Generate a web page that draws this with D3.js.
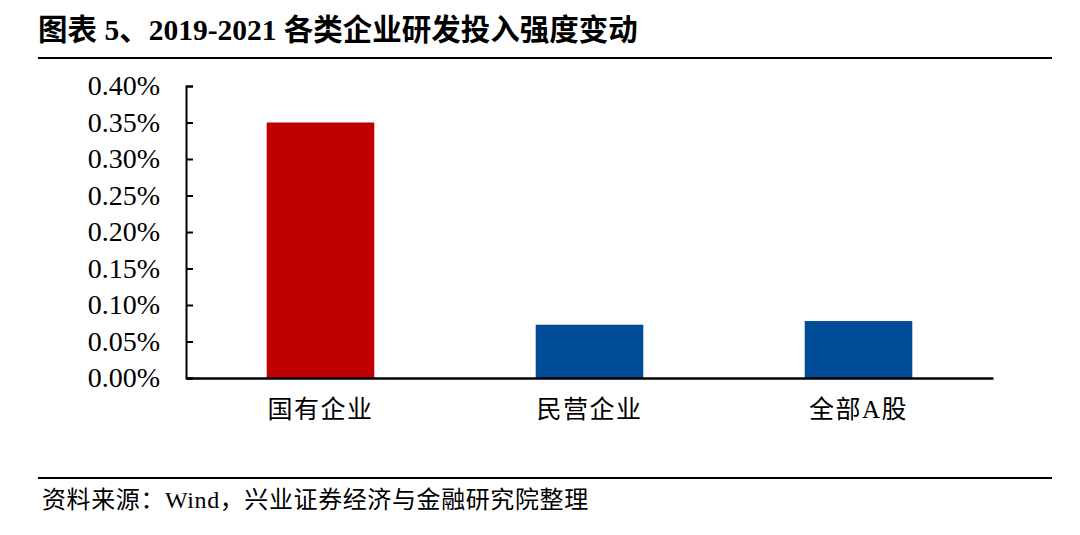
<!DOCTYPE html>
<html>
<head>
<meta charset="utf-8">
<script src="https://cdn.jsdelivr.net/npm/d3@7"></script>
<style>
  html, body { margin: 0; padding: 0; background: #fff; }
  svg { display: block; }
</style>
</head>
<body>
<svg id="chart" width="1080" height="535"></svg>
<script>
// Data: R&D intensity change 2019-2021 by enterprise type (percent)
const categories = ["国有企业", "民营企业", "全部A股"];
const values = [0.35, 0.073, 0.078];
const barColors = ["#C00000", "#004C97", "#004C97"];
const yTicks = [0, 0.05, 0.10, 0.15, 0.20, 0.25, 0.30, 0.35, 0.40];

const titleText = "图表 5、2019-2021 各类企业研发投入强度变动";
const sourceText = "资料来源：Wind，兴业证券经济与金融研究院整理";

const svg = d3.select("#chart");
const fontStack = '"Liberation Serif", "Noto Sans CJK SC", serif';

// Title and rules
svg.append("text")
  .attr("x", 38).attr("y", 40)
  .attr("font-family", fontStack)
  .attr("font-weight", "bold")
  .attr("font-size", 29.5)
  .attr("fill", "#000")
  .text(titleText);

svg.append("line")
  .attr("x1", 38).attr("x2", 1052)
  .attr("y1", 58).attr("y2", 58)
  .attr("stroke", "#000").attr("stroke-width", 2);

svg.append("line")
  .attr("x1", 38).attr("x2", 1052)
  .attr("y1", 478).attr("y2", 478)
  .attr("stroke", "#000").attr("stroke-width", 2);

svg.append("text")
  .attr("x", 42).attr("y", 508)
  .attr("font-family", fontStack)
  .attr("font-size", 24)
  .attr("letter-spacing", 0.6)
  .attr("fill", "#000")
  .text(sourceText);

// Plot area
const plot = { left: 186, right: 993, top: 86, bottom: 378 };

const x = d3.scaleBand()
  .domain(categories)
  .range([plot.left, plot.right])
  .paddingInner(0.6)
  .paddingOuter(0.3);

const y = d3.scaleLinear()
  .domain([0, 0.40])
  .range([plot.bottom, plot.top]);

// Bars
svg.append("g")
  .selectAll("rect")
  .data(categories)
  .join("rect")
  .attr("x", d => x(d))
  .attr("width", x.bandwidth())
  .attr("y", (d, i) => y(values[i]))
  .attr("height", (d, i) => y(0) - y(values[i]))
  .attr("fill", (d, i) => barColors[i]);

// Y axis with inward ticks
const yAxis = d3.axisLeft(y)
  .tickValues(yTicks)
  .tickFormat(d => d.toFixed(2) + "%")
  .tickSizeInner(-7)
  .tickSizeOuter(-7)
  .tickPadding(26);

const gy = svg.append("g")
  .attr("transform", `translate(${plot.left},0)`)
  .call(yAxis);
gy.select(".domain").attr("stroke", "#000").attr("stroke-width", 2);
gy.selectAll(".tick line").attr("stroke", "#000").attr("stroke-width", 2);
gy.selectAll(".tick text")
  .attr("font-family", fontStack)
  .attr("font-size", 28)
  .attr("fill", "#000");

// X axis baseline and category labels
const xAxis = d3.axisBottom(x).tickSize(0).tickPadding(22);
const gx = svg.append("g")
  .attr("transform", `translate(0,${plot.bottom})`)
  .call(xAxis);
gx.select(".domain").attr("stroke", "#000").attr("stroke-width", 2.5);
gx.selectAll(".tick text")
  .attr("font-family", fontStack)
  .attr("font-size", 25)
  .attr("letter-spacing", 1.5)
  .attr("fill", "#000");
</script>
</body>
</html>
